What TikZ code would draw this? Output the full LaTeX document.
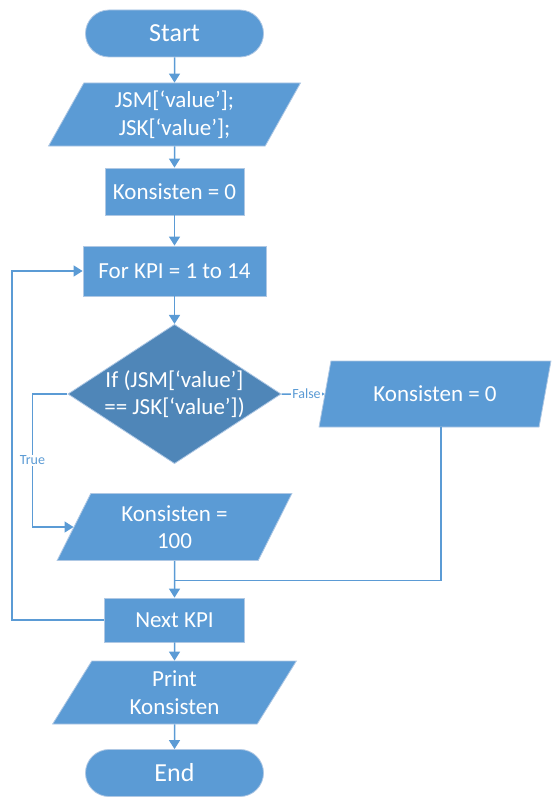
\documentclass[tikz,border=0pt]{standalone}
\usepackage{fontspec}
\setmainfont{Carlito}
\usetikzlibrary{shapes.geometric,shapes.misc,arrows.meta}
\definecolor{flowblue}{HTML}{5B9BD5}
\definecolor{flowdark}{HTML}{4F86B8}
\definecolor{flowedge}{HTML}{AFC8E4}
\tikzset{
  base/.style={draw=flowedge, line width=0.8pt, fill=flowblue, text=white,
    align=center, font=\fontsize{23}{27.6}\selectfont, inner sep=2pt},
  terminal/.style={base, rounded rectangle, minimum width=182pt,
    minimum height=47pt, font=\fontsize{26}{30}\selectfont},
  process/.style={base, rectangle, minimum height=47pt},
  io/.style={base, trapezium, trapezium left angle=65, trapezium right angle=115,
    trapezium stretches=true, minimum height=63pt},
  decision/.style={base, diamond, fill=flowdark, aspect=1.53, inner sep=0pt,
    minimum width=209pt, minimum height=137pt},
  flow/.style={draw=flowblue, line width=1.5pt, -{Triangle[length=9pt,width=11pt]}},
  branch/.style={font=\fontsize{14}{16}\selectfont, text=flowblue, fill=white, inner sep=1pt}
}
\begin{document}
\begin{tikzpicture}[x=1pt,y=-1pt]
  \useasboundingbox (0,0) rectangle (551,797);
  \node[terminal] (start) at (174.5,33.5) {Start};
  \node[io, minimum width=252pt] (input) at (174.5,114.5) {JSM[‘value’];\\JSK[‘value’];};
  \node[process, minimum width=139pt] (init) at (174.5,191.5) {Konsisten = 0};
  \node[process, minimum width=183pt, minimum height=50pt] (for) at (174.5,271) {For KPI = 1 to 14};
  \node[decision] (cmp) at (174.5,394) {If (JSM[‘value’]\\== JSK[‘value’])};
  \node[io, minimum width=232pt, minimum height=66pt, trapezium left angle=70,
    trapezium right angle=110] (zero) at (435,394) {Konsisten = 0};
  \node[io, minimum width=235pt, minimum height=67pt] (hundred) at (174.5,527) {Konsisten =\\100};
  \node[process, minimum width=140pt, minimum height=44pt] (next) at (174.5,620) {Next KPI};
  \node[io, minimum width=244pt] (print) at (174.5,692.5) {Print\\Konsisten};
  \node[terminal] (end) at (174.5,773) {End};
  \coordinate (join) at (174.5,580.5);
  \begin{scope}[flow]
    \draw (start) -- (input);
    \draw (input) -- (init);
    \draw (init) -- (for);
    \draw (for) -- (cmp);
    \draw (cmp) -- node[branch, pos=0.58] (false) {False} (zero);
    \draw (cmp.west) -- ++(-35,0) |- node[branch, pos=0.25] (true) {True} (hundred.west);
    \draw (hundred) -- (next);
    \draw[-] ([xshift=6pt]zero.south) |- (join);
    \draw (next.west) -- ++(-92,0) |- (for.west);
    \draw (next) -- (print);
    \draw (print) -- (end);
  \end{scope}
\end{tikzpicture}
\end{document}
